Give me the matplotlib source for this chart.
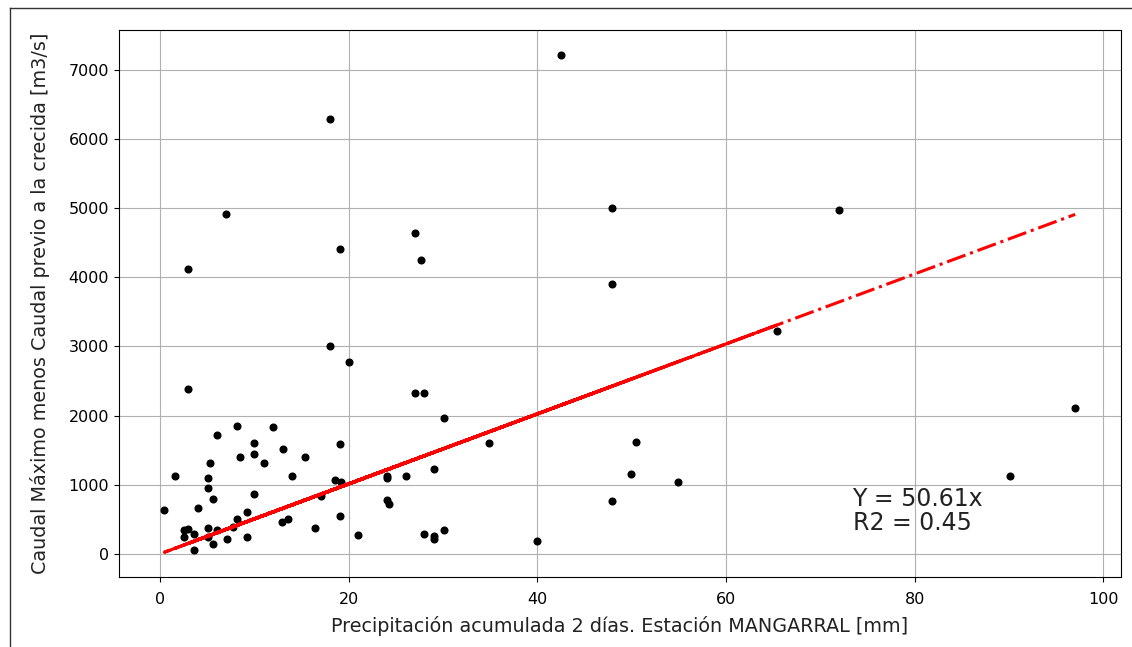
import numpy as np
import matplotlib
matplotlib.use("Agg")
import matplotlib.pyplot as plt
from matplotlib.lines import Line2D

# precipitation 2 days (mm) vs peak flow minus previous flow (m3/s)
precip = [42.5, 18.0, 47.9, 7.0, 27.0, 19.1, 27.7, 3.0, 47.9,
          65.4, 18.0, 20.0, 3.0, 27.0, 28.0, 30.1, 8.1, 12.0,
          6.0, 50.4, 10.0, 34.9, 19.1, 13.0, 10.0, 8.5, 15.4, 5.3,
          11.0, 29.0, 49.9, 1.6, 26.1, 14.0, 24.0, 5.1, 24.0,
          18.5, 54.9, 19.2, 5.1, 10.0, 17.0, 5.6, 24.0, 47.9, 24.3,
          4.0, 0.45, 9.2, 19.1, 8.1, 13.6, 12.9, 7.7, 16.4, 5.1,
          3.0, 6.0, 2.5, 30.1, 3.6, 28.0, 21.0, 29.0, 5.1, 9.2,
          2.5, 29.0, 7.1, 40.0, 5.6, 3.6, 72.0, 90.1, 97.0]
caudal = [7220, 6290, 5000, 4910, 4640, 4415, 4250, 4120, 3905,
          3225, 3000, 2770, 2380, 2320, 2320, 1960, 1850, 1830,
          1725, 1615, 1600, 1600, 1585, 1520, 1440, 1400, 1400, 1315,
          1315, 1225, 1160, 1125, 1130, 1130, 1125, 1100, 1100,
          1070, 1040, 1035, 945, 860, 840, 800, 780, 760, 715,
          660, 640, 600, 540, 500, 500, 455, 395, 370, 370,
          365, 345, 340, 340, 290, 280, 265, 255, 250, 250,
          240, 215, 210, 180, 145, 60, 4980, 1125, 2110]

pendiente = 50.61
r2 = 0.45

x = np.array(precip)
y = np.array(caudal)

fig = plt.figure(figsize=(11.32, 6.47), dpi=100)
ax = fig.add_axes([0.105, 0.108, 0.885, 0.846])

ax.plot(x, y, 'ko', markersize=4.8)
ax.plot(x, pendiente * x, 'r-.', linewidth=2.2)
ax.grid(True)

ax.text(73.4, 345, 'Y = %.2fx\nR2 = %.2f' % (pendiente, r2), fontsize=17,
        color='#222222', linespacing=1.0)

ax.set_xlabel('Precipitación acumulada 2 días. Estación MANGARRAL [mm]',
              fontsize=13.8, labelpad=7, color='#222222')
ax.set_ylabel('Caudal Máximo menos Caudal previo a la crecida [m3/s]',
              fontsize=13.8, labelpad=13, color='#222222')
ax.tick_params(labelsize=11.5)
ax.tick_params(axis='x', pad=7)

# frame of the original page
fig.add_artist(Line2D([10 / 1132, 10 / 1132], [0, 1 - 8 / 647],
                      transform=fig.transFigure, color='#333333', lw=1))
fig.add_artist(Line2D([10 / 1132, 1], [1 - 8 / 647, 1 - 8 / 647],
                      transform=fig.transFigure, color='#333333', lw=1))

fig.savefig('out.png', dpi=100)
